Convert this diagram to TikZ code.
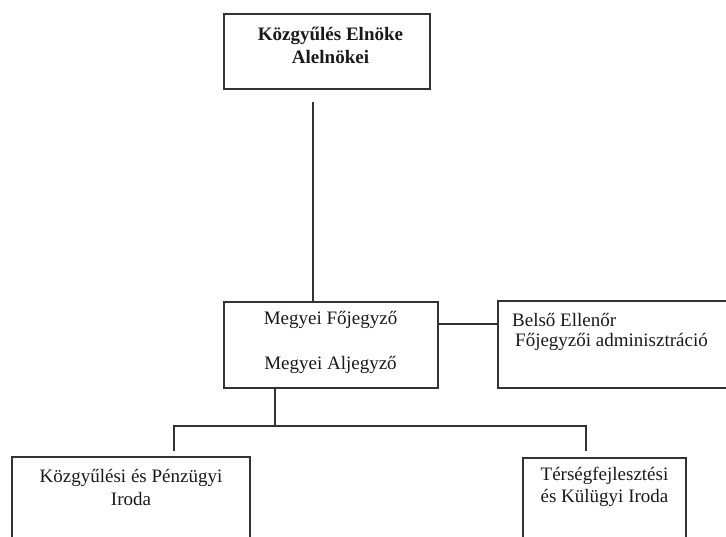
\documentclass[tikz,border=0pt]{standalone}
\usepackage{fontspec}
\setmainfont{Liberation Serif}
\begin{document}
\begin{tikzpicture}[x=1pt,y=-1pt,
  box/.style={draw=black!80,line width=1.6pt,inner sep=0pt,minimum width=#1},
  txt/.style={inner sep=0pt,align=center,font=\fontsize{19}{22.5}\selectfont,text=black!90},
  conn/.style={draw=black!80,line width=1.4pt}]
\useasboundingbox (0,0) rectangle (726,536);
\clip (0,0) rectangle (726,536);
% boxes
\node[box=206pt,minimum height=75pt] (top) at (327,51.5) {};
\node[box=214pt,minimum height=86pt] (mid) at (331,345) {};
\node[box=250pt,minimum height=87pt] (rb) at (623,344.5) {};
\node[box=238pt,minimum height=120pt] (bl) at (131,517) {};
\node[box=163pt,minimum height=120pt] (br) at (604.5,518) {};
% texts
\node[txt,font=\fontsize{19}{23}\selectfont\bfseries] (ttop) at (330.5,45) {Közgyűlés Elnöke\\Alelnökei};
\node[txt] (tmid1) at (330.5,320) {Megyei Főjegyző};
\node[txt] (tmid2) at (330.5,365) {Megyei Aljegyző};
\node[txt,anchor=west] (trb1) at (512,320) {Belső Ellenőr};
\node[txt,anchor=west] (trb2) at (515,342) {Főjegyzői adminisztráció};
\node[txt] (tbl) at (131,487.5) {Közgyűlési és Pénzügyi\\Iroda};
\node[txt] (tbr) at (604.5,487) {Térségfejlesztési\\és Külügyi Iroda};
% connectors
\coordinate (c1) at (313,102);
\draw[conn] (c1) -- (c1 |- mid.north);
\draw[conn] ([yshift=21pt]mid.east) -- ([yshift=20.5pt]rb.west);
\coordinate (j) at (275,426);
\coordinate (jl) at (174,426);
\coordinate (jr) at (586,426);
\coordinate (el) at (174,451);
\coordinate (er) at (586,451);
\draw[conn] (j |- mid.south) -- (j);
\draw[conn] (el) -- (jl) -- (jr) -- (er);
\end{tikzpicture}
\end{document}
